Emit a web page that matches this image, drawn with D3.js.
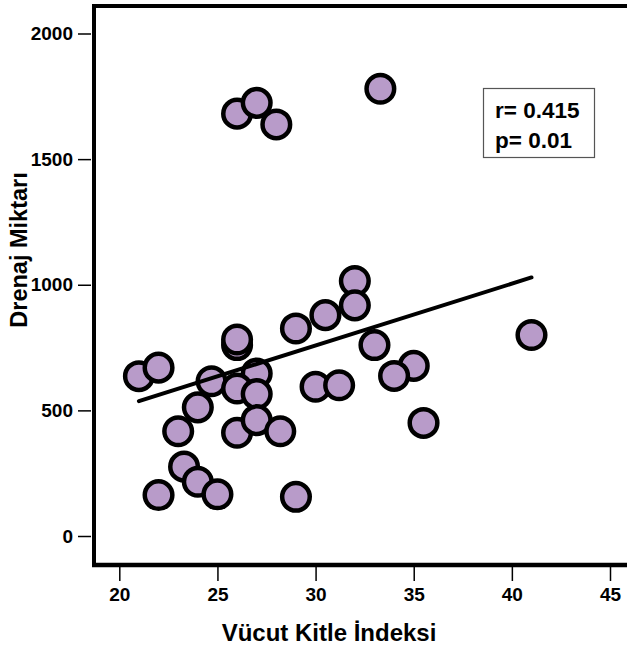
<!DOCTYPE html>
<html><head><meta charset="utf-8">
<script src="https://cdn.jsdelivr.net/npm/d3@7"></script>
<style>body{margin:0;background:#fff;}svg{display:block;font-family:Arial,"Liberation Sans",sans-serif;}</style>
</head><body>
<script>
const bmi = [21, 22, 24.7, 26, 26, 27, 26, 27, 24, 23, 26, 27, 28.2, 23.3, 24, 25, 22, 29, 29, 30, 30.5, 32, 32, 31.2, 33, 35, 34, 35.5, 41, 26, 27, 28, 33.3];
const drenaj = [636, 670, 616, 760, 782, 647, 587, 565, 512, 417, 411, 461, 417, 276, 216, 166, 163, 156, 826, 594, 879, 1015, 918, 600, 760, 677, 637, 450, 800, 1681, 1724, 1638, 1780];
const fitX = [21, 41];
const fitY = [537, 1029];
const xTicks = [20, 25, 30, 35, 40, 45];
const yTicks = [0, 500, 1000, 1500, 2000];
const stats = ["r= 0.415", "p= 0.01"];
const xTitle = "Vücut Kitle İndeksi";
const yTitle = "Drenaj Miktarı";

const W = 627, H = 649;
const svg = d3.select("body").append("svg").attr("width", W).attr("height", H);
const x = d3.scaleLinear().domain([20, 45]).range([119.3, 610]);
const y = d3.scaleLinear().domain([0, 2000]).range([536, 33.5]);
const pLeft = 94, pTop = 6, pBottom = 565, pRight = 627;

// axes
const xAxis = svg.append("g").attr("transform", `translate(0,${pBottom})`)
  .call(d3.axisBottom(x).tickValues(xTicks).tickSize(16).tickPadding(7).tickFormat(d3.format("d")));
const yAxis = svg.append("g").attr("transform", `translate(${pLeft - 3},0)`)
  .call(d3.axisLeft(y).tickValues(yTicks).tickSize(13).tickPadding(5).tickFormat(d3.format("d")));
[xAxis, yAxis].forEach(g => {
  g.select(".domain").remove();
  g.selectAll(".tick line").attr("stroke", "#000").attr("stroke-width", 1.5);
  g.selectAll(".tick text").attr("fill", "#000").attr("font-size", 19).attr("font-weight", "bold");
});

// frame
svg.append("line").attr("x1", pLeft).attr("x2", pLeft).attr("y1", pTop - 2).attr("y2", pBottom + 2).attr("stroke", "#000").attr("stroke-width", 4);
svg.append("line").attr("x1", pLeft - 2).attr("x2", pRight).attr("y1", pTop).attr("y2", pTop).attr("stroke", "#000").attr("stroke-width", 4);
svg.append("line").attr("x1", pLeft - 2).attr("x2", pRight).attr("y1", pBottom).attr("y2", pBottom).attr("stroke", "#000").attr("stroke-width", 4.5);

// points
svg.append("g").selectAll("circle").data(bmi.map((d, i) => [d, drenaj[i]]))
  .join("circle").attr("cx", d => x(d[0])).attr("cy", d => y(d[1])).attr("r", 13.8)
  .attr("fill", "#b89bc9").attr("stroke", "#000").attr("stroke-width", 4.5);

// regression line
svg.append("path").datum(fitX.map((d, i) => [d, fitY[i]]))
  .attr("d", d3.line().x(d => x(d[0])).y(d => y(d[1])))
  .attr("stroke", "#000").attr("stroke-width", 4).attr("fill", "none").attr("stroke-linecap", "round");

// stats box
svg.append("rect").attr("x", 483.5).attr("y", 88.5).attr("width", 111).attr("height", 69)
  .attr("fill", "#fff").attr("stroke", "#555").attr("stroke-width", 1.2);
svg.append("g").selectAll("text").data(stats).join("text")
  .attr("x", 495).attr("y", (d, i) => 118 + i * 29.5).text(d => d)
  .attr("font-size", 22.5).attr("font-weight", "bold").attr("fill", "#000");

// titles
svg.append("text").attr("x", 329).attr("y", 641).attr("text-anchor", "middle")
  .attr("font-size", 24).attr("font-weight", "bold").text(xTitle);
svg.append("text").attr("transform", "translate(27,250) rotate(-90)").attr("text-anchor", "middle")
  .attr("font-size", 23.5).attr("font-weight", "bold").text(yTitle);
</script>
</body></html>
